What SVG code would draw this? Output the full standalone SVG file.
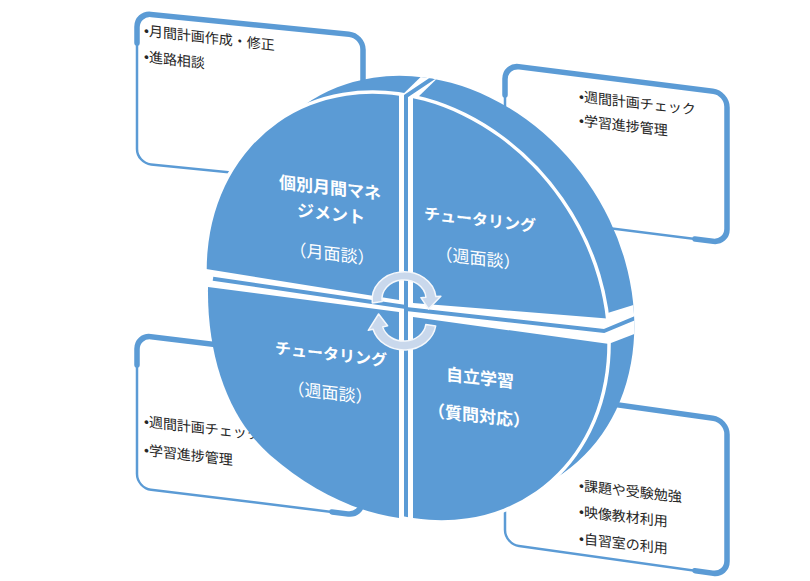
<svg xmlns="http://www.w3.org/2000/svg" xmlns:xlink="http://www.w3.org/1999/xlink" width="810" height="581" viewBox="0 0 810 581">
<style>
.box{fill:#fff;stroke:#5b9bd5;stroke-width:2.5}
.edge{fill:none;stroke:#5b9bd5;stroke-width:5.5;stroke-linecap:round}
.bt{font-family:"Liberation Sans","Noto Sans CJK JP",sans-serif;font-size:14px;fill:#262626}
.dt{font-family:"Noto Sans CJK JP",sans-serif;fill:#fff;text-anchor:middle;font-size:17px}
.b{font-weight:bold}
.blue{fill:#5b9bd5}
.sliver{fill:none;stroke:#5b9bd5;stroke-width:4}
.arrow{fill:#c9d8ec;stroke:#f5f8fc;stroke-width:1.5;stroke-linejoin:round}
</style>
<defs>
<ellipse id="disk" cx="407" cy="307" rx="225" ry="187" transform="rotate(55 407 307)"/>
<clipPath id="hull">
<use xlink:href="#disk"/>
<use xlink:href="#disk" transform="translate(6.75,-4.5)"/>
<use xlink:href="#disk" transform="translate(13.5,-9)"/>
<use xlink:href="#disk" transform="translate(20.25,-13.5)"/>
<use xlink:href="#disk" transform="translate(27,-18)"/>
</clipPath>
<clipPath id="cTL"><polygon points="150,0 399,0 399,300 150,260"/></clipPath>
<clipPath id="cTR"><polygon points="413,0 700,0 700,326 413,303"/></clipPath>
<clipPath id="cBR"><polygon points="413,317 700,356.6 700,600 413,600"/></clipPath>
</defs>
<rect width="810" height="581" fill="#fff"/>

<g id="box-tl">
<g transform="translate(137,13) skewY(5.7)">
<rect class="box" x="0" y="0" width="226" height="150" rx="14"/>
<path class="edge" d="M0,30 V14 A14,14 0 0 1 14,0 H212 A14,14 0 0 1 226,14 V150"/>
</g>
<text class="bt" transform="translate(144,35.5) skewY(6.5)">•月間計画作成・修正</text>
<text class="bt" transform="translate(144,61.5) skewY(6.5)">•進路相談</text>
</g>

<g id="box-tr">
<g transform="translate(505,65) skewY(7.2)">
<rect class="box" x="0" y="0" width="222" height="150" rx="14"/>
<path class="edge" d="M0,30 V14 A14,14 0 0 1 14,0 H208 A14,14 0 0 1 222,14 V136 A14,14 0 0 1 208,150 H190"/>
</g>
<text class="bt" transform="translate(579,101.5) skewY(6.5)">•週間計画チェック</text>
<text class="bt" transform="translate(579,125.5) skewY(6.5)">•学習進捗管理</text>
</g>

<g id="box-bl">
<g transform="translate(137,335) skewY(7)">
<rect class="box" x="0" y="0" width="225" height="153" rx="14"/>
<path class="edge" d="M0,30 V14 A14,14 0 0 1 14,0 H211 A14,14 0 0 1 225,14 V139 A14,14 0 0 1 211,153 H195"/>
</g>
<text class="bt" transform="translate(144,426.5) skewY(6.5)">•週間計画チェック</text>
<text class="bt" transform="translate(144,455) skewY(6.5)">•学習進捗管理</text>
</g>

<g id="box-br">
<g transform="translate(505,389) skewY(8)">
<rect class="box" x="0" y="0" width="222" height="155" rx="14"/>
<path class="edge" d="M0,30 V14 A14,14 0 0 1 14,0 H208 A14,14 0 0 1 222,14 V141 A14,14 0 0 1 208,155 H190"/>
</g>
<text class="bt" transform="translate(579,490.5) skewY(6.5)">•課題や受験勉強</text>
<text class="bt" transform="translate(579,516.5) skewY(6.5)">•映像教材利用</text>
<text class="bt" transform="translate(579,543.5) skewY(6.5)">•自習室の利用</text>
</g>

<g id="disk-body">
<g class="blue">
<use xlink:href="#disk"/>
<use xlink:href="#disk" transform="translate(6.75,-4.5)"/>
<use xlink:href="#disk" transform="translate(13.5,-9)"/>
<use xlink:href="#disk" transform="translate(20.25,-13.5)"/>
<use xlink:href="#disk" transform="translate(27,-18)"/>
</g>
<use xlink:href="#disk" fill="#fff" stroke="#fff" stroke-width="7"/>
<g clip-path="url(#hull)">
<polygon fill="#fff" points="397,100 415,100 450,66 432,66"/>
<polygon fill="#fff" points="598,316 650,300 650,328 598,348"/>
<polyline class="sliver" points="406,525 406,96 445,70"/>
<polyline class="sliver" points="406,309 604,331 650,312"/>
<line class="sliver" x1="213" y1="278.7" x2="406" y2="307"/>
</g>
</g>

<g id="q-tl">
<g clip-path="url(#cTL)"><use xlink:href="#disk" class="blue"/></g>
<text class="dt b" transform="translate(330,194) skewY(6.5)">個別月間マネ</text>
<text class="dt b" transform="translate(331,220) skewY(6.5)">ジメント</text>
<text class="dt" transform="translate(332,260) skewY(6.5)">（月面談）</text>
</g>

<g id="q-tr">
<g clip-path="url(#cTR)"><use xlink:href="#disk" class="blue"/></g>
<text class="dt b" transform="translate(480,225.5) skewY(6.5)" style="font-size:16px">チュータリング</text>
<text class="dt" transform="translate(478,264.5) skewY(6.5)">（週面談）</text>
</g>

<g id="q-bl">
<path class="blue" d="M399,312 L208,287 C207,360 230,420 270,455 C310,490 355,512 399,518 Z"/>
<text class="dt b" transform="translate(331,360) skewY(6.5)" style="font-size:16px">チュータリング</text>
<text class="dt" transform="translate(330,399) skewY(6.5)">（週面談）</text>
</g>

<g id="q-br">
<g clip-path="url(#cBR)"><use xlink:href="#disk" class="blue"/></g>
<text class="dt b" transform="translate(480,384) skewY(6.5)">自立学習</text>
<text class="dt b" transform="translate(479,422) skewY(6.5)">（質問対応）</text>
</g>

<g id="connectors">
<path class="arrow" d="M372.3,302.9 A32,28 0 1,1 435.9,296.6 L440.9,296.2 L428.5,308.9 L420.9,297.7 L425.9,297.3 A22,19 0 1,0 382.2,301.6 Z"/>
<path class="arrow" d="M435.7,325.9 A32,28 0 0,1 373.1,329.2 L368.3,330.3 L378.6,314 L387.6,325.8 L382.7,326.9 A22,19 0 0,0 425.8,324.6 Z"/>
</g>
</svg>
